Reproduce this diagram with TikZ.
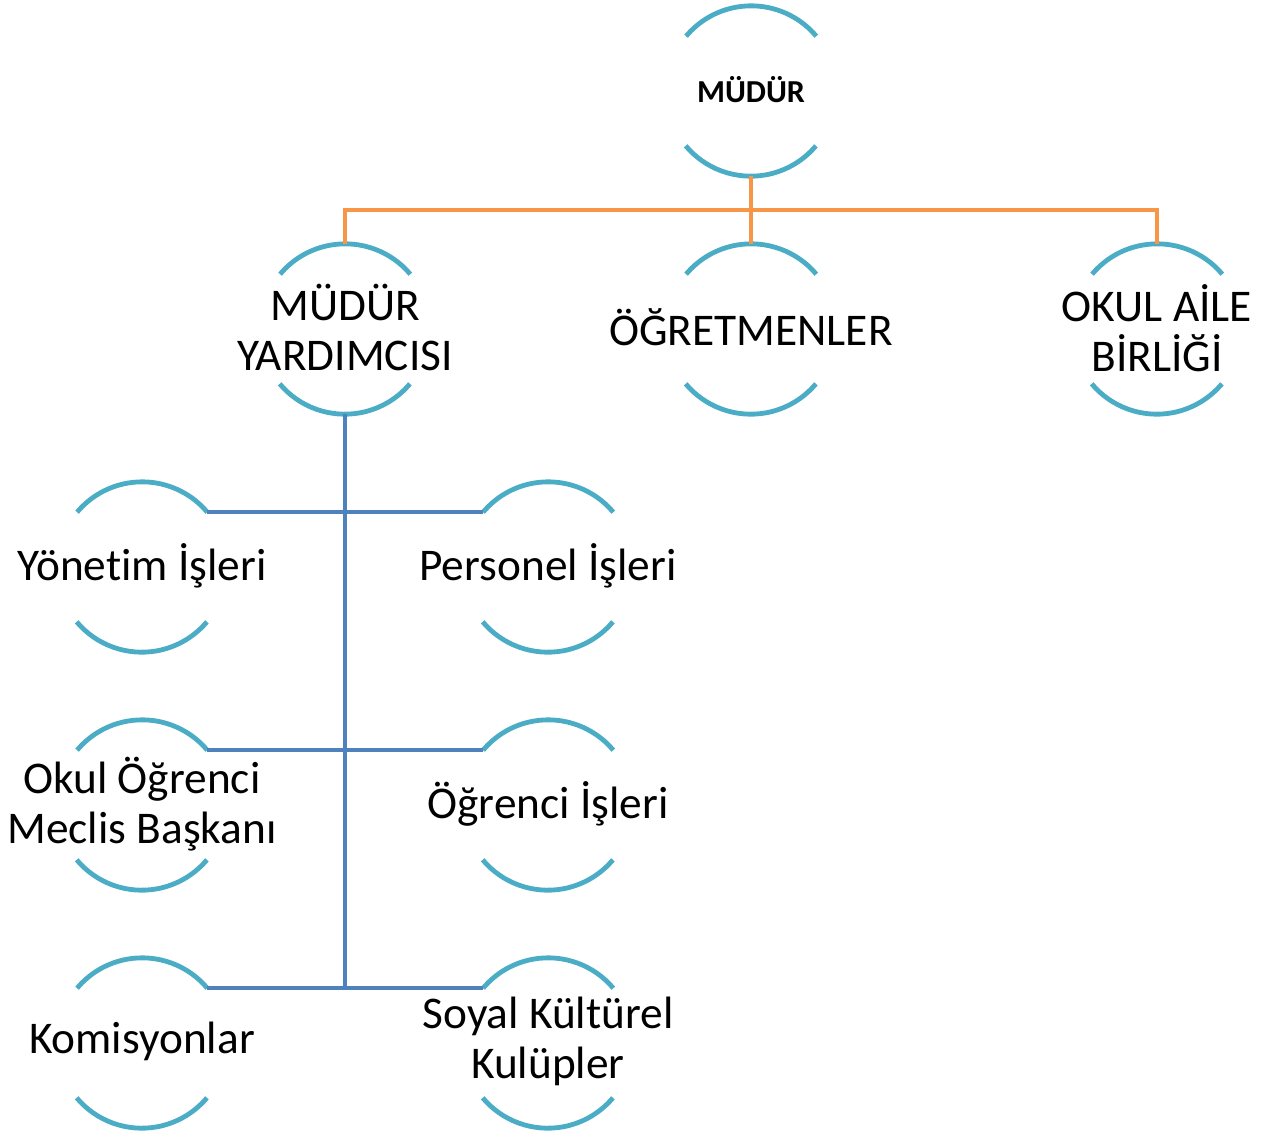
\documentclass[tikz,border=0pt]{standalone}
\usepackage{fontspec}
\setmainfont[Ligatures={NoCommon}]{Carlito}
\definecolor{arccol}{HTML}{4BACC6}
\definecolor{orangecol}{HTML}{F79646}
\definecolor{bluecol}{HTML}{4F81BD}
\begin{document}
\begin{tikzpicture}[x=0.75pt,y=-0.75pt,
  unitnode/.style={circle, minimum size=127.5pt, inner sep=0pt, draw=none},
  lbl/.style={font=\fontsize{34}{37.5}\selectfont, align=center, inner sep=0pt, yshift=1pt},
  toplbl/.style={font=\fontsize{24}{28}\selectfont\bfseries, align=center, inner sep=0pt, yshift=1pt},
  arcline/.style={draw=arccol, line width=3.6pt},
  orangeline/.style={draw=orangecol, line width=3.4pt},
  blueline/.style={draw=bluecol, line width=3.4pt}]
\useasboundingbox (0,0) rectangle (1261,1133);
% nodes
\node[unitnode, label={[toplbl]center:MÜDÜR}] (mudur) at (751,91) {};
\node[unitnode, label={[lbl]center:MÜDÜR\\YARDIMCISI}] (may) at (345,329) {};
\node[unitnode, label={[lbl]center:ÖĞRETMENLER}] (ogr) at (751,329) {};
\node[unitnode, label={[lbl]center:OKUL AİLE\\BİRLİĞİ}] (oab) at (1157,329) {};
\node[unitnode, label={[lbl]center:Yönetim İşleri}] (yon) at (142,567) {};
\node[unitnode, label={[lbl]center:Personel İşleri}] (per) at (548,567) {};
\node[unitnode, label={[lbl]center:Okul Öğrenci\\Meclis Başkanı}] (okm) at (142,805) {};
\node[unitnode, label={[lbl]center:Öğrenci İşleri}] (ogi) at (548,805) {};
\node[unitnode, label={[lbl]center:Komisyonlar}] (kom) at (142,1043) {};
\node[unitnode, label={[lbl]center:Soyal Kültürel\\Kulüpler}] (sos) at (548,1043) {};
% arcs
\foreach \n in {mudur,may,ogr,oab,yon,per,okm,ogi,kom,sos}{
  \draw[arcline] (\n.40) arc[start angle=40, end angle=140, radius=63.75pt];
  \draw[arcline] (\n.220) arc[start angle=220, end angle=320, radius=63.75pt];
}
% orange connectors
\coordinate (obus) at (751,210);
\draw[orangeline] (mudur.south) -- (obus);
\draw[orangeline] (may.north) |- (obus) -| (oab.north);
\draw[orangeline] (obus) -- (ogr.north);
% blue connectors
\coordinate (bend) at (345,990);
\draw[blueline] (may.south) -- (bend);
\draw[blueline] (yon.40) -- (per.140);
\draw[blueline] (okm.40) -- (ogi.140);
\draw[blueline] (kom.40) -- (sos.140);
\end{tikzpicture}
\end{document}
